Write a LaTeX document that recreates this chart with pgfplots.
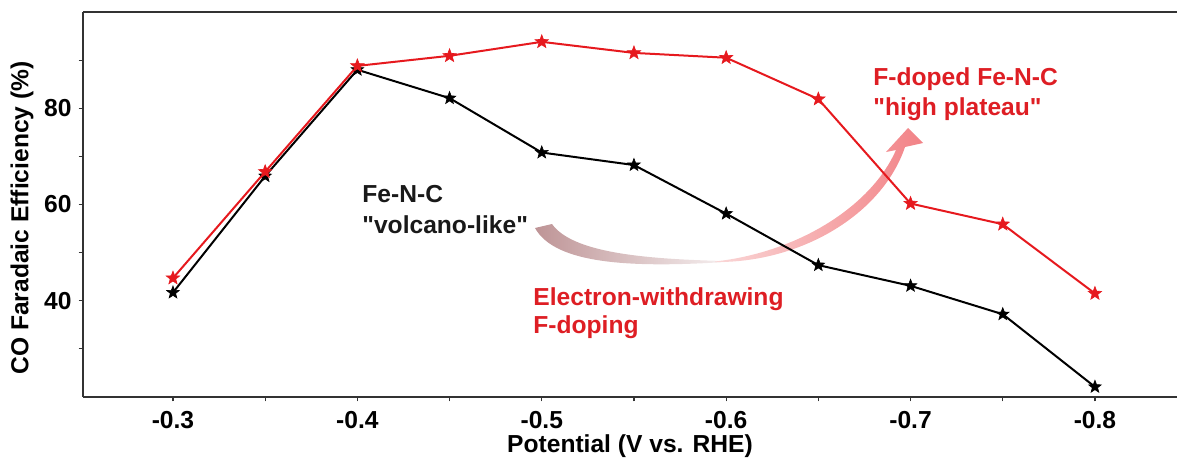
\documentclass[border=0pt]{standalone}
\usepackage{fontspec}
\setmainfont{Liberation Sans}
\usepackage{pgfplots}
\pgfplotsset{compat=1.18}
\definecolor{myred}{RGB}{230,25,30}
\definecolor{txtred}{RGB}{222,30,36}
\definecolor{rose}{RGB}{190,148,150}
\definecolor{pinkA}{RGB}{250,215,215}
\definecolor{pinkB}{RGB}{242,130,134}
\pgfdeclareplotmark{fstar}{%
  \pgfpathmoveto{\pgfpointpolar{90}{\pgfplotmarksize}}%
  \pgfpathlineto{\pgfpointpolar{126}{0.42\pgfplotmarksize}}%
  \pgfpathlineto{\pgfpointpolar{162}{\pgfplotmarksize}}%
  \pgfpathlineto{\pgfpointpolar{198}{0.42\pgfplotmarksize}}%
  \pgfpathlineto{\pgfpointpolar{234}{\pgfplotmarksize}}%
  \pgfpathlineto{\pgfpointpolar{270}{0.42\pgfplotmarksize}}%
  \pgfpathlineto{\pgfpointpolar{306}{\pgfplotmarksize}}%
  \pgfpathlineto{\pgfpointpolar{342}{0.42\pgfplotmarksize}}%
  \pgfpathlineto{\pgfpointpolar{18}{\pgfplotmarksize}}%
  \pgfpathlineto{\pgfpointpolar{54}{0.42\pgfplotmarksize}}%
  \pgfpathclose\pgfusepathqfillstroke}
\newcommand{\bfs}{\fontsize{12.3}{15}\selectfont\bfseries}
\font\qfont="Liberation Sans/B" at 12.3pt
\newcommand{\q}{{\qfont\char34}}
\begin{document}
\begin{tikzpicture}
\useasboundingbox (0,0) rectangle (588.5pt,-231pt);
\begin{scope}[x=0.5pt,y=-0.5pt]
 \shade[left color=rose, right color=rose!15] (535,228) .. controls (555,264) and (630,268) .. (725,262) -- (725,261) .. controls (640,259) and (572,252) .. (552,224) -- cycle;
 \shade[left color=pinkA, right color=pinkB] (715,262) .. controls (800,263) and (882,215) .. (905,147) -- (923,143) -- (908,128) -- (886,152) -- (896,150) .. controls (872,205) and (800,252) .. (715,261.5) -- cycle;
\end{scope}
\begin{axis}[at={(41.5pt,-6pt)}, anchor=north west, scale only axis,
 width=547pt, height=192.5pt,
 xmin=-0.8445, xmax=-0.2512, x dir=reverse, ymin=20, ymax=100,
 axis x line*=box, axis y line*=left,
 xtick={-0.3,-0.4,-0.5,-0.6,-0.7,-0.8},
 xticklabels={-0.3,-0.4,-0.5,-0.6,-0.7,-0.8},
 minor xtick={-0.35,-0.45,-0.55,-0.65,-0.75},
 ytick={40,60,80}, yticklabels={40,60,80}, minor ytick={30,50,70,90},
 xtick pos=bottom, ytick pos=left, tick align=outside,
 major tick length=2.2pt, minor tick length=2.2pt,
 tick style={black!80, line width=0.6pt},
 axis line style={line width=0.7pt, black!80},
 tick label style={font=\bfs},
 xticklabel style={yshift=-1.5pt},
 label style={font=\bfs},
 xlabel={Potential (V vs. RHE)},
 ylabel={CO Faradaic Efficiency (\%)},
 xlabel style={at={(axis description cs:0.5,-0.128)}, anchor=center},
 ylabel style={at={(axis description cs:-0.0558,0.465)}, anchor=center},
 clip=false,
]
\addplot[black, line width=1pt, mark=fstar, mark size=3.3pt, mark options={fill=black, line width=0.3pt}] coordinates {
(-0.3,41.7) (-0.35,65.9) (-0.4,88.0) (-0.45,82.1) (-0.5,70.8) (-0.55,68.2) (-0.6,58.1) (-0.65,47.4) (-0.7,43.1) (-0.75,37.2) (-0.8,22.1)};
\addplot[myred, line width=1pt, mark=fstar, mark size=3.5pt, mark options={fill=myred, line width=0.3pt}] coordinates {
(-0.3,44.7) (-0.35,66.8) (-0.4,88.8) (-0.45,90.9) (-0.5,93.8) (-0.55,91.5) (-0.6,90.5) (-0.65,81.9) (-0.7,60.2) (-0.75,55.9) (-0.8,41.5)};
\end{axis}
\begin{scope}[x=0.5pt,y=-0.5pt]
 \node[anchor=base west, inner sep=0, font=\bfs, text=black!90] at (362,202) {Fe-N-C};
 \node[anchor=base west, inner sep=0, font=\bfs, text=black!90] at (362,233) {\q volcano-like\q};
 \node[anchor=base west, inner sep=0, font=\bfs, text=txtred] at (533,305) {Electron-withdrawing};
 \node[anchor=base west, inner sep=0, font=\bfs, text=txtred] at (533,333) {F-doping};
 \node[anchor=base west, inner sep=0, font=\bfs, text=txtred] at (873,85) {F-doped Fe-N-C};
 \node[anchor=base west, inner sep=0, font=\bfs, text=txtred] at (873,115) {\q high plateau\q};
\end{scope}
\end{tikzpicture}
\end{document}
